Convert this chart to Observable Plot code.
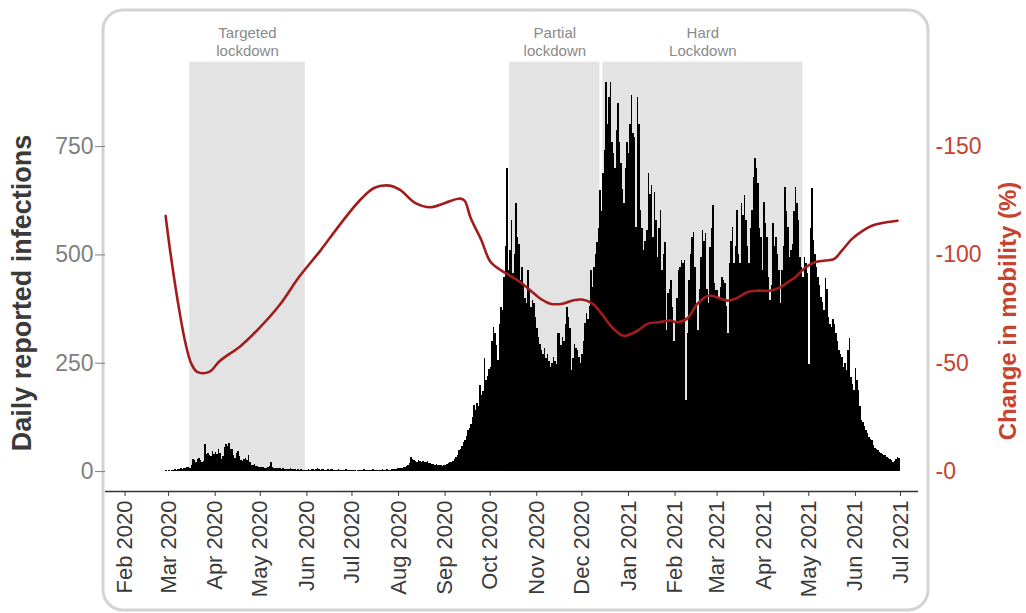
<!DOCTYPE html>
<html>
<head>
<meta charset="utf-8">
<script src="https://cdn.jsdelivr.net/npm/d3@7"></script>
<script src="https://cdn.jsdelivr.net/npm/@observablehq/plot@0.6"></script>
<style>
  html, body { margin: 0; padding: 0; background: #fff; }
  #chart { width: 1026px; height: 613px; }
</style>
</head>
<body>
<div id="chart"></div>
<script>
// ---------- DATA ----------
// Daily reported infections, one value per day, keyed by the first day of each list
const cases_2020_02 = [1, 2, 1]; // from 27 Feb 2020
const cases_2020_03 = [2,1,3,2,4,3,5,4,6,5, 7,6,9,10,8,15,27,25,20,28, 31,26,22,23,62,40,42,38,35,46, 40];
const cases_2020_04 = [44,40,50,42,27,35,55,62,58,65, 52,50,38,31,42,46,35,25,23,28, 30,26,38,22,15,14,16,12,11,10];
const cases_2020_05 = [9,10,9,8,7,9,12,21,10,8, 8,7,6,7,5,6,5,4,5,4, 6,5,4,4,3,4,3,4,3,3, 2];
const cases_2020_06 = [3,4,2,5,4,3,5,6,4,3, 4,5,3,2,4,3,5,4,3,2, 3,4,2,3,2,3,4,2,3,2];
const cases_2020_07 = [2,3,2,1,2,3,2,3,4,2, 3,2,3,2,4,3,2,3,2,3, 4,3,2,4,3,3,4,5,4,5, 6];
const cases_2020_08 = [6,7,8,9,10,12,14,18,33,27, 25,24,22,26,23,21,24,22,20,23, 19,18,17,16,15,17,14,15,13,12, 14];
const cases_2020_09 = [14,16,18,22,20,24,28,33,38,48, 52,58,68,72,80,95,100,108,125,152, 140,156,150,198,175,185,260,210,220,235];
const cases_2020_10 = [240,300,333,318,290,256,340,379,372,448, 520,699,464,510,579,456,500,618,540,525, 441,470,433,400,387,464,420,379,395,387, 356];
const cases_2020_11 = [330,310,294,280,271,285,260,271,255,240, 250,264,255,248,318,318,290,310,300,340, 379,356,330,233,260,294,285,279,264,250];
const cases_2020_12 = [271,300,341,364,350,380,464,425,470,502, 529,560,648,600,687,741,898,800,864,898, 760,733,700,787,849,760,710,650,618,700, 760];
const cases_2021_01 = [733,800,868,780,771,564,864,800,602,560, 510,530,556,687,640,660,540,644,580,494, 560,602,464,500,529,325,410,420,441,379, 300];
const cases_2021_02 = [341,400,464,470,487,480,487,164,318,441, 500,540,552,470,387,325,420,494,556,530, 549,420,387,517,560,614,433,418];
const cases_2021_03 = [418,400,425,448,440,433,380,318,480,530, 564,480,520,602,500,480,618,590,637,579, 520,480,560,602,679,722,700,664,560,540, 464];
const cases_2021_04 = [621,572,540,448,395,430,572,520,540,500, 464,387,464,520,656,600,564,494,510,525, 600,656,618,580,494,470,448,494,480,456];
const cases_2021_05 = [248,560,653,533,500,471,448,430,402,390, 372,445,420,356,340,333,352,340,318,300, 279,270,264,240,250,233,280,307,218,200, 187];
const cases_2021_06 = [238,210,187,150,118,113,105,95,88,79, 75,72,60,53,50,48,44,41,39,37, 36,33,31,29,25,21,23,28,33,30];

const caseBlocks = [
  ["2020-02-27", cases_2020_02], ["2020-03-01", cases_2020_03], ["2020-04-01", cases_2020_04],
  ["2020-05-01", cases_2020_05], ["2020-06-01", cases_2020_06], ["2020-07-01", cases_2020_07],
  ["2020-08-01", cases_2020_08], ["2020-09-01", cases_2020_09], ["2020-10-01", cases_2020_10],
  ["2020-11-01", cases_2020_11], ["2020-12-01", cases_2020_12], ["2021-01-01", cases_2021_01],
  ["2021-02-01", cases_2021_02], ["2021-03-01", cases_2021_03], ["2021-04-01", cases_2021_04],
  ["2021-05-01", cases_2021_05], ["2021-06-01", cases_2021_06]
];

// Change in mobility (%) (shown with a leading minus sign on the right axis)
const mobilityDates = ["2020-02-28","2020-03-02","2020-03-07","2020-03-12","2020-03-16","2020-03-20","2020-03-28","2020-04-04","2020-04-18","2020-04-30",
  "2020-05-14","2020-05-27","2020-06-10","2020-06-23","2020-07-06","2020-07-16","2020-07-26","2020-08-02","2020-08-12","2020-08-22",
  "2020-09-01","2020-09-11","2020-09-14","2020-09-18","2020-09-25","2020-10-01","2020-10-08","2020-10-14","2020-10-21","2020-10-28",
  "2020-11-03","2020-11-10","2020-11-18","2020-11-25","2020-12-01","2020-12-08","2020-12-14","2020-12-21","2020-12-28","2020-12-31",
  "2021-01-07","2021-01-14","2021-01-21","2021-01-29","2021-02-02","2021-02-09","2021-02-16","2021-02-23","2021-03-01","2021-03-08",
  "2021-03-15","2021-03-21","2021-03-28","2021-04-05","2021-04-12","2021-04-17","2021-04-22","2021-04-29","2021-05-05","2021-05-12",
  "2021-05-18","2021-05-23","2021-05-30","2021-06-06","2021-06-12","2021-06-21","2021-06-29"];
const mobilityValues = [118,102,79,60,50,46,46,51,58,66,
  77,90,102,114,125,131,132,130,124,122,
  124,126,125,117,107,97,93,90.5,87.4,83.5,
  80,77.5,77.5,79,79.4,77.5,73,66.6,62.8,62.8,
  65,68.3,68.9,69.7,68.9,70.6,77.5,81.2,80.4,78.9,
  80.4,82.8,83.5,83.5,85,87.4,89.7,94.3,96.6,97.4,
  98.2,102,107.5,111.2,113.5,115,115.8];

// Lockdown periods
const lockdownLabels = ["Targeted\nlockdown", "Partial\nlockdown", "Hard\nLockdown"];
const lockdownStarts = ["2020-03-15", "2020-10-14", "2020-12-15"];
const lockdownEnds   = ["2020-05-31", "2020-12-13", "2021-04-27"];

// Axis ticks
const infectionTicks = [0, 250, 500, 750];
const mobilityTicks = [0, 50, 100, 150];
const monthTicks = ["2020-02-01","2020-03-01","2020-04-01","2020-05-01","2020-06-01","2020-07-01","2020-08-01","2020-09-01","2020-10-01",
  "2020-11-01","2020-12-01","2021-01-01","2021-02-01","2021-03-01","2021-04-01","2021-05-01","2021-06-01","2021-07-01"];

// ---------- TABLES ----------
const cases = caseBlocks.flatMap(([start, vals]) =>
  vals.map((v, k) => ({date: d3.utcDay.offset(new Date(start), k), value: v})));
const mobility = mobilityDates.map((d, i) => ({date: new Date(d), value: mobilityValues[i]}));
const lockdowns = lockdownLabels.map((label, i) => ({label, start: new Date(lockdownStarts[i]), end: new Date(lockdownEnds[i])}));

// ---------- CHART ----------
const mobilityFactor = 5;      // 1 % mobility = 5 infections on the shared vertical scale
const yMin = -46, yMax = 1041; // padded vertical domain
const shadeTop = 945;
const red = "#c8432f";

const chart = Plot.plot({
  width: 1026,
  height: 613,
  marginLeft: 105,
  marginRight: 108,
  marginTop: 20,
  marginBottom: 122,
  style: {fontFamily: "'Liberation Sans', Arial, Helvetica, sans-serif", background: "white", overflow: "visible"},
  x: {type: "utc", domain: [new Date("2020-01-19"), new Date("2021-07-13")]},
  y: {domain: [yMin, yMax]},
  marks: [
    Plot.rect(lockdowns, {x1: "start", x2: "end", y1: () => 0, y2: () => shadeTop, fill: "#e3e3e3"}),
    Plot.text(lockdowns, {
      x: d => new Date((+d.start + +d.end) / 2), frameAnchor: "top", dy: 21,
      text: "label", lineAnchor: "middle", lineHeight: 1.2, fontSize: 15, fill: "#8a8a8a"
    }),
    Plot.rect(cases, {
      x1: "date", x2: d => d3.utcDay.offset(d.date, 1), y1: () => 0, y2: "value",
      fill: "black", shapeRendering: "crispEdges"
    }),
    Plot.line(mobility, {
      x: "date", y: d => d.value * mobilityFactor,
      stroke: "#a31c1c", strokeWidth: 2.6, curve: "catmull-rom"
    }),
    Plot.ruleY([yMin], {stroke: "#333", strokeWidth: 1.5}),
    Plot.axisX({
      ticks: monthTicks.map(d => new Date(d)), tickFormat: "%b %Y", tickRotate: -90,
      tickSize: 5, tickPadding: 4, fontSize: 22, color: "#3a3a3a", label: null
    }),
    Plot.axisY({
      anchor: "left", ticks: infectionTicks, tickSize: 10, tickPadding: 2,
      fontSize: 23, color: "#808080", label: null
    }),
    Plot.axisY({
      anchor: "right", ticks: mobilityTicks.map(v => v * mobilityFactor),
      tickFormat: d => "-" + (d / mobilityFactor), tickSize: 0, tickPadding: 17,
      fontSize: 23, color: red, label: null
    }),
    Plot.text(["Daily reported infections"], {
      frameAnchor: "left", dx: -83, dy: 37, rotate: -90, textAnchor: "middle",
      fontSize: 27, fontWeight: "bold", fill: "#3a3a3a"
    }),
    Plot.text(["Change in mobility (%)"], {
      frameAnchor: "right", dx: 90, dy: 55, rotate: -90, textAnchor: "middle",
      fontSize: 24, fontWeight: "bold", fill: red
    })
  ]
});

// rounded panel border behind the marks
d3.select(chart).insert("rect", "g")
  .attr("x", 103).attr("y", 10).attr("width", 825).attr("height", 600)
  .attr("rx", 20).attr("ry", 20)
  .attr("fill", "none").attr("stroke", "#d4d4d4").attr("stroke-width", 3);

document.getElementById("chart").append(chart);
</script>
</body>
</html>
